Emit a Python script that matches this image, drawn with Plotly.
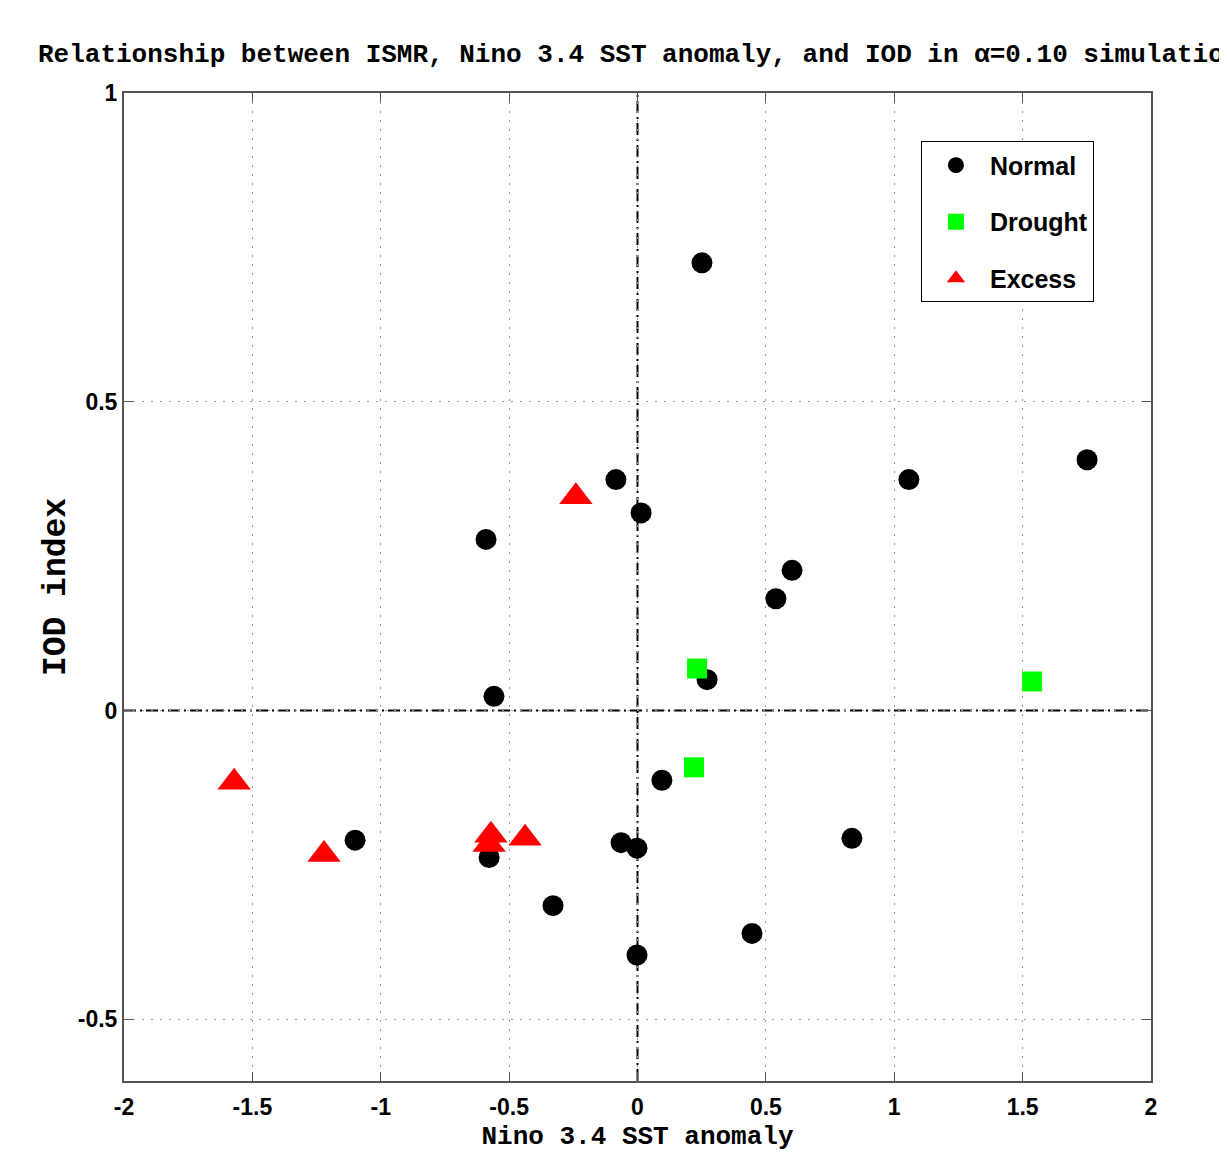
import plotly.graph_objects as go

# Normal years
normal_x = [0.251, 1.751, 1.057, -0.084, 0.014, -0.590, 0.602, 0.539, 0.271, -0.559,
            0.095, -1.100, 0.835, -0.064, -0.002, -0.578, -0.329, 0.446, -0.002]
normal_y = [0.725, 0.406, 0.374, 0.374, 0.320, 0.277, 0.227, 0.181, 0.050, 0.023,
            -0.113, -0.210, -0.207, -0.214, -0.223, -0.238, -0.316, -0.361, -0.396]
# Drought years
drought_x = [0.232, 1.537, 0.220]
drought_y = [0.068, 0.047, -0.092]
# Excess years
excess_x = [-0.240, -1.571, -1.221, -0.571, -0.578, -0.438]
excess_y = [0.346, -0.116, -0.233, -0.202, -0.217, -0.207]

x_ticks = [-2, -1.5, -1, -0.5, 0, 0.5, 1, 1.5, 2]
x_tick_text = ["-2", "-1.5", "-1", "-0.5", "0", "0.5", "1", "1.5", "2"]
y_ticks = [-0.5, 0, 0.5, 1]
y_tick_text = ["-0.5", "0", "0.5", "1"]

sans = "Liberation Sans Narrow, Liberation Sans, Arial"
mono = "Liberation Mono, Courier New, monospace"
tick_font = dict(family=sans, size=23, color="black", weight="bold")

fig = go.Figure()
fig.add_trace(go.Scatter(x=normal_x, y=normal_y, mode="markers", name="<b>Normal</b>",
                         legendgroup="a",
                         marker=dict(symbol="circle", size=21, color="black")))
fig.add_trace(go.Scatter(x=drought_x, y=drought_y, mode="markers", name="<b>Drought</b>",
                         legendgroup="b",
                         marker=dict(symbol="square", size=20, color="#00ff00")))
fig.add_trace(go.Scatter(x=excess_x, y=excess_y, mode="markers", name="<b>Excess</b>",
                         legendgroup="c",
                         marker=dict(symbol="triangle-up", size=29, color="#ff0000")))

# zero reference lines
fig.add_shape(type="line", xref="x", yref="paper", x0=0, x1=0, y0=0, y1=1,
              line=dict(color="black", width=2, dash="12px,4px,2px,4px"), layer="below")
fig.add_shape(type="line", xref="paper", yref="y", x0=0, x1=1, y0=0, y1=0,
              line=dict(color="black", width=2, dash="12px,4px,2px,4px"), layer="below")

axis_common = dict(showline=True, linecolor="#555555", linewidth=2, mirror="ticks",
                   ticks="inside", ticklen=9, tickcolor="#555555", tickwidth=1,
                   showgrid=True, gridcolor="#999999", griddash="2px,7px", gridwidth=1,
                   zeroline=False, tickfont=tick_font, automargin=False)

fig.update_xaxes(range=[-2, 2], tickvals=x_ticks, ticktext=x_tick_text,
                 ticklabelstandoff=4,
                 title=dict(text="<b>Nino 3.4 SST anomaly</b>",
                            font=dict(family=mono, size=26, color="black"), standoff=9),
                 **axis_common)
fig.update_yaxes(range=[-0.6, 1], tickvals=y_ticks, ticktext=y_tick_text,
                 title=dict(text="<b>IOD index</b>",
                            font=dict(family=mono, size=33, color="black"), standoff=2),
                 **axis_common)

# page body has an 8px margin, so the figure is offset by 8px
W, H = 1219, 1144
fig.update_layout(
    width=W, height=H,
    margin=dict(l=116, r=76, t=85, b=71),
    paper_bgcolor="white", plot_bgcolor="white",
    title=dict(text="<b>Relationship between ISMR, Nino 3.4 SST anomaly, and IOD in α=0.10 simulation</b>",
               font=dict(family=mono, size=26, color="black"),
               x=30 / W, xanchor="left", xref="container",
               y=1 - 45 / H, yanchor="middle", yref="container"),
    legend=dict(x=0.776, y=0.951, xanchor="left", yanchor="top",
                bgcolor="white", bordercolor="black", borderwidth=1,
                font=dict(family=sans, size=25, color="black"),
                traceorder="grouped", tracegroupgap=21, itemsizing="trace",
                itemwidth=58),
    showlegend=True,
)

fig.write_html("out.html")
